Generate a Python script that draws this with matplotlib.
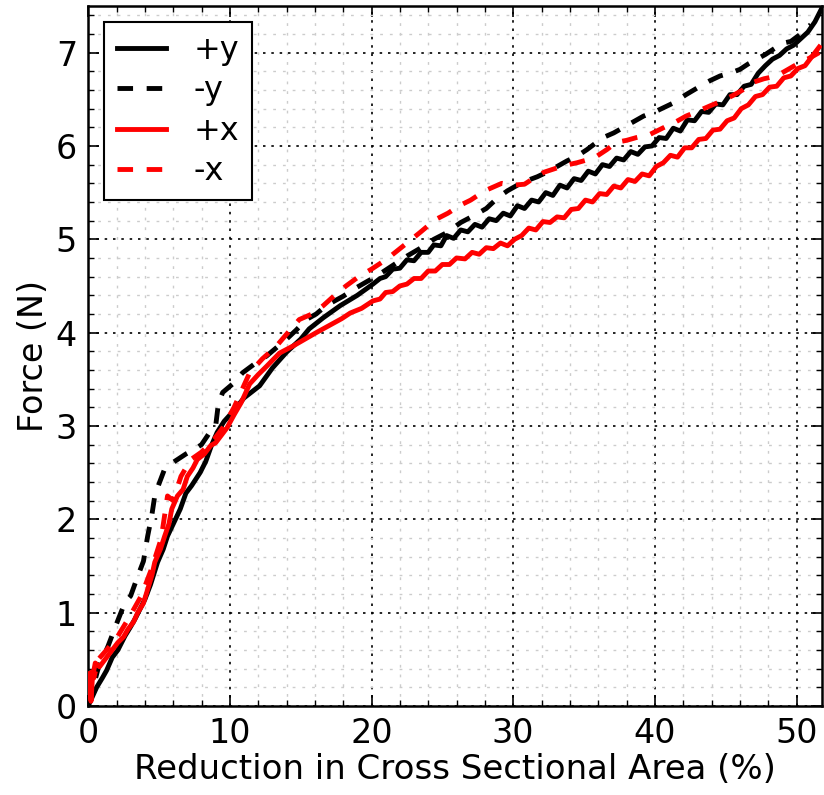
import matplotlib
matplotlib.use("Agg")
import matplotlib.pyplot as plt
from matplotlib.ticker import MultipleLocator

# +y (black solid)
py_x = [0, 0.3, 0.6, 1.0, 1.3, 1.7, 2.1, 2.6, 3.0, 3.3, 3.7, 4.0, 4.4, 4.9, 5.3, 5.6, 6.1, 6.5, 6.9, 7.3,
        7.9, 8.3, 8.7, 9.1, 9.6, 10.2, 11.0, 12.1, 13.0, 14.0, 15.0, 15.6, 16.6, 17.8, 19.0,
        20.1, 20.6, 21.0, 21.5, 22.0, 22.5, 23.0, 23.5, 24.0, 24.4, 24.9, 25.3, 25.8, 26.3, 26.8, 27.3,
        27.8, 28.3, 28.8, 29.3, 29.8, 30.3, 30.8, 31.3, 31.8, 32.3, 32.8, 33.3, 33.8, 34.3, 34.8, 35.3,
        35.8, 36.3, 36.8, 37.3, 37.8, 38.3, 38.8, 39.3, 39.8, 40.3, 40.8, 41.3, 41.8, 42.3, 42.8, 43.3,
        43.8, 44.3, 44.8, 45.3, 45.8, 46.3, 46.8, 47.3, 47.8, 48.3, 48.8, 49.3, 49.8, 50.3, 50.8, 51.3, 51.8]
py_y = [0.0, 0.1, 0.2, 0.3, 0.38, 0.52, 0.6, 0.75, 0.85, 0.93, 1.05, 1.14, 1.3, 1.54, 1.68, 1.82, 1.98, 2.11, 2.28, 2.36,
        2.5, 2.62, 2.79, 2.93, 3.05, 3.15, 3.3, 3.43, 3.62, 3.79, 3.93, 4.04, 4.16, 4.29, 4.4,
        4.52, 4.58, 4.60, 4.68, 4.69, 4.78, 4.77, 4.86, 4.86, 4.94, 4.93, 5.04, 5.01, 5.10, 5.08, 5.16,
        5.13, 5.22, 5.20, 5.28, 5.25, 5.36, 5.33, 5.42, 5.40, 5.50, 5.47, 5.58, 5.55, 5.65, 5.63, 5.73,
        5.70, 5.80, 5.78, 5.87, 5.85, 5.94, 5.91, 5.99, 6.00, 6.09, 6.08, 6.19, 6.16, 6.28, 6.27, 6.37,
        6.36, 6.45, 6.44, 6.55, 6.55, 6.64, 6.66, 6.78, 6.86, 6.93, 6.97, 7.04, 7.08, 7.15, 7.22, 7.33, 7.48]

# -y (black dashed)
my_x = [0, 0.25, 0.7, 1.4, 2.0, 2.6, 3.0, 3.5, 3.9, 4.2, 4.5, 4.7, 5.0, 5.4, 5.9, 6.3, 6.9, 7.5, 8.0, 8.4,
        8.7, 9.0, 9.2, 9.5, 10.2, 10.9, 11.7, 12.6, 13.3, 14.0, 14.7, 15.4, 16.1, 16.8, 17.4, 18.0, 18.8,
        19.6, 20.3, 21.1, 21.8, 22.5, 23.4, 24.4, 25.3, 26.3, 27.3, 28.1, 28.95, 29.6, 30.3, 31.0, 31.7,
        32.4, 33.1, 33.8, 34.5, 35.2, 35.9, 36.5, 37.1, 37.8, 38.5, 39.2, 40.2, 41.3, 42.2, 43.2, 43.9,
        44.6, 45.3, 46.0, 46.6, 47.2, 47.8, 48.4, 49.0, 49.6, 50.3, 51.0]
my_y = [0, 0.14, 0.4, 0.64, 0.88, 1.11, 1.18, 1.39, 1.55, 1.82, 2.05, 2.25, 2.38, 2.54, 2.6, 2.64, 2.7, 2.75, 2.8, 2.89,
        2.96, 3.0, 3.25, 3.36, 3.45, 3.57, 3.66, 3.75, 3.84, 3.93, 4.03, 4.14, 4.2, 4.29, 4.34, 4.39, 4.47,
        4.54, 4.6, 4.68, 4.75, 4.82, 4.9, 5.0, 5.07, 5.18, 5.26, 5.33, 5.45, 5.52, 5.58, 5.63, 5.67,
        5.72, 5.78, 5.84, 5.89, 5.96, 6.04, 6.1, 6.14, 6.2, 6.26, 6.32, 6.38, 6.46, 6.55, 6.64, 6.7,
        6.75, 6.78, 6.82, 6.88, 6.93, 6.98, 7.04, 7.1, 7.12, 7.2, 7.3]

# +x (red solid)
px_x = [0, 0.1, 0.2, 0.3, 0.5, 0.8, 1.2, 1.6, 2.1, 2.5, 2.8, 3.2, 3.5, 3.9, 4.2, 4.5, 4.7, 5.1, 5.4, 5.7, 5.9,
        6.3, 6.7, 7.0, 7.4, 7.7, 8.2, 8.65, 9.0, 9.35, 9.8, 10.3, 10.8, 11.4, 12.0, 12.6, 13.5, 14.5, 15.3,
        16.1, 16.7, 17.3, 17.9, 18.5, 19.3, 20.1, 20.6, 21.0, 21.5, 22.0, 22.5, 23.0, 23.5, 24.0, 24.5,
        25.0, 25.5, 26.0, 26.6, 27.1, 27.6, 28.1, 28.6, 29.1, 29.6, 30.1, 30.6, 31.1, 31.6, 32.1, 32.6,
        33.1, 33.6, 34.1, 34.6, 35.1, 35.6, 36.1, 36.6, 37.1, 37.6, 38.1, 38.6, 39.1, 39.6, 40.1, 40.6,
        41.1, 41.6, 42.1, 42.6, 43.1, 43.6, 44.1, 44.6, 45.1, 45.6, 46.1, 46.6, 47.1, 47.6, 48.1, 48.6,
        49.1, 49.6, 50.1, 50.6, 51.1, 51.6]
px_y = [0.1, 0.35, 0.05, 0.3, 0.46, 0.42, 0.5, 0.58, 0.68, 0.74, 0.82, 0.9, 1.0, 1.1, 1.25, 1.4, 1.54, 1.68, 1.82, 1.95, 2.11,
        2.25, 2.32, 2.46, 2.55, 2.64, 2.7, 2.79, 2.82, 2.89, 2.98, 3.12, 3.25, 3.45, 3.55, 3.64, 3.78, 3.86, 3.93,
        4.0, 4.05, 4.1, 4.15, 4.21, 4.26, 4.34, 4.36, 4.43, 4.44, 4.50, 4.52, 4.58, 4.58, 4.66, 4.66,
        4.73, 4.73, 4.80, 4.79, 4.86, 4.84, 4.91, 4.90, 4.96, 4.93, 5.00, 5.04, 5.12, 5.10, 5.19, 5.18,
        5.24, 5.23, 5.32, 5.33, 5.42, 5.40, 5.49, 5.48, 5.57, 5.55, 5.64, 5.62, 5.70, 5.68, 5.78, 5.82,
        5.90, 5.88, 5.98, 5.98, 6.07, 6.08, 6.17, 6.18, 6.27, 6.30, 6.40, 6.44, 6.53, 6.55, 6.63, 6.64,
        6.73, 6.75, 6.83, 6.86, 6.96, 7.06]

# -x (red dashed)
mx_x = [0, 0.2, 0.4, 0.72, 1.3, 2.1, 2.9, 3.75, 4.45, 5.15, 5.6, 6.0, 6.55, 7.25, 8.0, 8.9, 9.5, 10.3, 11.4,
        12.3, 13.2, 14.1, 14.9, 15.8, 16.6, 17.4, 18.2, 19.1, 20.0, 21.1, 22.5, 23.4, 24.5, 25.4, 26.2,
        27.0, 28.0, 29.2, 30.0, 30.8, 31.5, 32.2, 33.6, 34.5, 35.2, 35.9, 36.6, 37.3, 38.0, 38.7, 39.6,
        40.8, 41.5, 42.2, 43.0, 43.9, 44.7, 45.5, 46.2, 46.9, 47.7, 48.6, 49.4, 50.2, 50.9, 51.6]
mx_y = [0.2, 0.45, 0.3, 0.5, 0.6, 0.75, 0.95, 1.18, 1.46, 1.79, 2.25, 2.2, 2.46, 2.64, 2.72, 2.86, 2.98, 3.2, 3.57,
        3.72, 3.84, 4.0, 4.14, 4.2, 4.29, 4.4, 4.5, 4.6, 4.68, 4.79, 4.96, 5.07, 5.21, 5.28, 5.36,
        5.42, 5.52, 5.6, 5.58, 5.59, 5.66, 5.72, 5.79, 5.82, 5.85, 5.89, 5.96, 6.04, 6.06, 6.09, 6.12,
        6.21, 6.26, 6.32, 6.37, 6.43, 6.48, 6.54, 6.6, 6.68, 6.72, 6.75, 6.82, 6.89, 6.94, 7.0]

x_ticks = [0, 10, 20, 30, 40, 50]
y_ticks = [0, 1, 2, 3, 4, 5, 6, 7]

fig = plt.figure(figsize=(8.24, 7.95), dpi=100)
ax = fig.add_axes([0.107, 0.112, 0.8906, 0.8805])

lw = 3.5
dash = (3.2, 2.8)
ax.plot(py_x, py_y, color='black', lw=lw, label='+y', zorder=5)
ax.plot(my_x, my_y, color='black', lw=lw, ls=(0, dash), label='-y', zorder=5)
ax.plot(px_x, px_y, color='#ff0000', lw=lw, label='+x', zorder=6)
ax.plot(mx_x, mx_y, color='#ff0000', lw=lw, ls=(0, dash), label='-x', zorder=6)

ax.set_xlim(0, 51.8)
ax.set_ylim(0, 7.5)
ax.set_xticks(x_ticks)
ax.set_yticks(y_ticks)
ax.xaxis.set_minor_locator(MultipleLocator(2))
ax.yaxis.set_minor_locator(MultipleLocator(0.2))

ax.grid(which='minor', color='#cccccc', lw=1.0, ls=(0, (2, 5)))
ax.grid(which='major', color='black', lw=1.2, ls=(0, (1.5, 3.5)))
ax.set_axisbelow(True)

ax.tick_params(which='both', direction='in', top=True, right=True)
ax.tick_params(which='major', length=8, width=1.2, labelsize=24, pad=8)
ax.tick_params(which='minor', length=4, width=1.0)
for s in ax.spines.values():
    s.set_linewidth(1.8)

ax.set_xlabel('Reduction in Cross Sectional Area (%)', fontsize=24.5, labelpad=2)
ax.set_ylabel('Force (N)', fontsize=24, labelpad=4)

leg = ax.legend(loc='upper left', fontsize=23, frameon=True, fancybox=False,
                edgecolor='black', framealpha=1, handlelength=1.55, handletextpad=0.85,
                labelspacing=0.3, borderpad=0.4, borderaxespad=0.5)
leg.get_frame().set_linewidth(1.5)
leg.set_zorder(10)

fig.savefig('out.png', dpi=100)
